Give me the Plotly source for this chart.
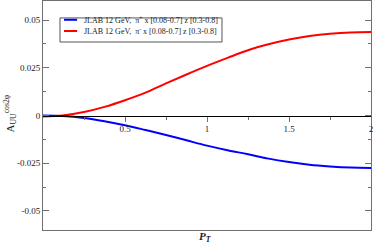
import plotly.graph_objects as go

pT = [0, 0.12, 0.25, 0.375, 0.5, 0.625, 0.75, 0.875, 1.0, 1.125, 1.25, 1.375, 1.5, 1.625, 1.75, 1.875, 2.0]
a_pim = [-0.0005, 0.0, 0.0018, 0.0045, 0.008, 0.012, 0.0168, 0.0215, 0.026, 0.0302, 0.0342, 0.0373,
         0.0398, 0.0416, 0.0428, 0.0435, 0.0437]
a_pip = [0.0, -0.0003, -0.0013, -0.003, -0.0051, -0.0076, -0.0102, -0.013, -0.0158, -0.0182, -0.0203,
         -0.0226, -0.0244, -0.0258, -0.0267, -0.0273, -0.0275]

series_names = ["JLAB 12 GeV,  \u03c0<sup>+</sup> x [0.08-0.7] z [0.3-0.8]",
                "JLAB 12 GeV,  \u03c0<sup>-</sup> x [0.08-0.7] z [0.3-0.8]"]
x_tickvals = [0.5, 1, 1.5, 2]
x_ticktext = ["0.5", "1", "1.5", "2"]
x_minor = [0.25, 0.75, 1.25, 1.75]
y_tickvals = [-0.05, -0.025, 0, 0.025, 0.05]
y_ticktext = ["-0.05", "-0.025", "0", "0.025", "0.05"]

SERIF = "Liberation Serif"
FRAME = "#707070"

fig = go.Figure()
fig.add_trace(go.Scatter(x=pT, y=a_pip, mode="lines", line=dict(color="#0000ff", width=2, shape="spline"),
                         name=series_names[0], xaxis="x2", yaxis="y", showlegend=False))
fig.add_trace(go.Scatter(x=pT, y=a_pim, mode="lines", line=dict(color="#ff0000", width=2, shape="spline"),
                         name=series_names[1], xaxis="x", yaxis="y", showlegend=False))

common_x = dict(range=[0, 2], showgrid=False, zeroline=False)
fig.update_layout(
    width=374, height=247,
    margin=dict(l=43, r=3, t=1, b=17),
    paper_bgcolor="white", plot_bgcolor="white",
    font=dict(family=SERIF, size=9, color="#222"),
    xaxis=dict(**common_x, showline=True, linecolor=FRAME, mirror=True, ticks="", showticklabels=False),
    xaxis2=dict(**common_x, overlaying="x", anchor="free", position=0.5, side="bottom",
                showline=True, linecolor="black", linewidth=1,
                ticks="outside", ticklen=5, tickcolor=FRAME, tickvals=x_tickvals, ticktext=x_ticktext,
                tickfont=dict(family=SERIF, size=9, color="#222"),
                minor=dict(tickvals=x_minor, ticks="outside", ticklen=3, tickcolor=FRAME)),
    xaxis3=dict(**common_x, overlaying="x", anchor="free", position=0.5, side="bottom",
                showline=False, ticks="inside", ticklen=5, tickcolor=FRAME, tickvals=x_tickvals,
                showticklabels=False,
                minor=dict(tickvals=x_minor, ticks="inside", ticklen=3, tickcolor=FRAME)),
    yaxis=dict(range=[-0.06, 0.06], showgrid=False, zeroline=False, showline=True, linecolor=FRAME,
               mirror="ticks", ticks="inside", ticklen=6, tickcolor=FRAME,
               tickvals=y_tickvals, ticktext=y_ticktext, tickfont=dict(family=SERIF, size=9, color="#222"),
               minor=dict(dtick=0.0125, ticks="inside", ticklen=3, tickcolor=FRAME)),
    showlegend=False,
)

# axis titles
fig.add_annotation(text="A<sub>UU</sub><sup>cos2\u03c6</sup>", textangle=-90, xref="paper", yref="paper",
                   x=-0.1, y=0.51, xanchor="center", yanchor="middle", showarrow=False,
                   font=dict(family=SERIF, size=11, color="#222"))
fig.add_annotation(text="<b><i>P</i></b><sub><b><i>T</i></b></sub>", xref="paper", yref="paper",
                   x=0.494, y=-0.03, xanchor="center", yanchor="middle", showarrow=False,
                   font=dict(family=SERIF, size=11, color="#222"))

# legend box
fig.add_shape(type="rect", xref="paper", yref="paper", x0=0.0518, x1=0.5457, y0=0.821, y1=0.926,
              line=dict(color="#555", width=1), fillcolor="white")
leg_y = [0.918, 0.869]
leg_col = ["#0000ff", "#ff0000"]
for name, yy, col in zip(series_names, leg_y, leg_col):
    fig.add_shape(type="line", xref="paper", yref="paper", x0=0.064, x1=0.104, y0=yy, y1=yy,
                  line=dict(color=col, width=2))
    fig.add_annotation(text=name, xref="paper", yref="paper", x=0.12, y=yy, xanchor="left",
                       yanchor="middle", showarrow=False, font=dict(family=SERIF, size=8, color="#222"))

fig.write_html("out.html", config={"displayModeBar": False},
               post_script="document.body.style.margin='0';")
